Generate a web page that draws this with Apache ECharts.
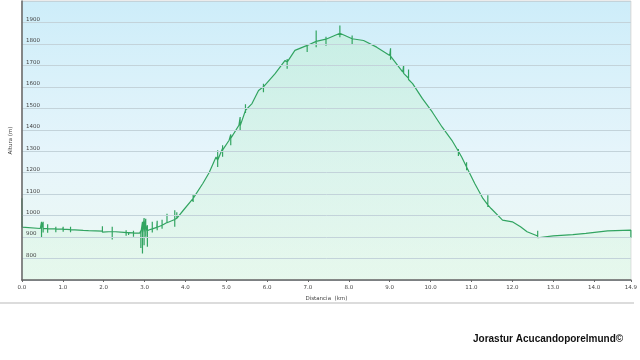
<!DOCTYPE html>
<html>
<head>
<meta charset="utf-8">
<script src="https://cdn.jsdelivr.net/npm/echarts@6/dist/echarts.min.js"></script>
<style>html,body{margin:0;padding:0;background:#fff;}#c{width:640px;height:360px;}</style>
</head>
<body>
<div id="c"></div>
<script>
// Base elevation profile (km, m)
var baseKm  = [0, 0.005, 0.45, 1.0, 1.5, 2.0, 2.5, 2.88, 3.12, 3.3, 3.55, 3.74, 3.95, 4.19, 4.43, 4.58, 4.75, 4.91, 5.07, 5.31, 5.47, 5.63, 5.79, 5.95, 6.19, 6.44, 6.68, 6.99, 7.24, 7.48, 7.8, 8.08, 8.36, 8.68, 9.0, 9.32, 9.56, 9.8, 10.04, 10.28, 10.52, 10.76, 10.88, 11.08, 11.28, 11.48, 11.76, 12.0, 12.2, 12.36, 12.62, 13.0, 13.48, 13.8, 14.33, 14.9, 14.9];
var baseAlt = [1081, 946, 940, 937, 931, 928, 922, 918, 934, 945, 968, 982, 1025, 1080, 1151, 1200, 1273, 1314, 1351, 1421, 1490, 1522, 1583, 1607, 1660, 1723, 1770, 1793, 1816, 1824, 1855, 1824, 1816, 1785, 1746, 1669, 1615, 1545, 1483, 1413, 1351, 1273, 1227, 1150, 1080, 1033, 979, 971, 948, 925, 905, 906, 911, 917, 929, 932, 897];
// GPS noise spikes (km, high, low, level on the profile)
var spikeKm   = [0.48, 0.52, 0.63, 0.83, 1.01, 1.19, 1.63, 1.97, 2.21, 2.55, 2.61, 2.73, 2.91, 2.95, 2.99, 3.03, 3.07, 3.19, 3.31, 3.43, 3.55, 3.74, 3.79, 4.19, 4.79, 4.91, 5.11, 5.34, 5.47, 5.91, 6.49, 6.98, 7.20, 7.44, 7.78, 8.08, 9.02, 9.34, 9.46, 10.68, 10.88, 11.40, 12.62];
var spikeHi   = [971, 971, 960, 948, 948, 948, 935, 951, 948, 932, 930, 930, 930, 971, 989, 985, 955, 971, 976, 981, 1009, 1025, 1016, 1100, 1305, 1328, 1378, 1459, 1519, 1614, 1730, 1793, 1862, 1834, 1886, 1839, 1780, 1702, 1681, 1310, 1249, 1095, 930];
var spikeLo   = [900, 921, 920, 922, 925, 923, 925, 923, 889, 906, 910, 902, 849, 824, 862, 901, 855, 921, 932, 939, 967, 948, 987, 1064, 1227, 1274, 1328, 1397, 1478, 1575, 1684, 1762, 1785, 1792, 1831, 1797, 1726, 1663, 1634, 1278, 1211, 1040, 897];
var spikeBase = [940, 940, 939, 938, 937, 935, 930, 928, 926, 921, 921, 920, 918, 920, 922, 926, 930, 938, 946, 955, 968, 982, 988, 1080, 1258, 1305, 1360, 1418, 1490, 1600, 1715, 1793, 1812, 1822, 1850, 1824, 1743, 1665, 1640, 1300, 1227, 1050, 905];

var xTickInterval = 1, yMin = 700, yMax = 2000, yInterval = 100;

var data = [];
var j = 0;
for (var i = 0; i < baseKm.length; i++) {
  while (j < spikeKm.length && spikeKm[j] < baseKm[i]) {
    data.push([spikeKm[j], spikeBase[j]]);
    data.push([spikeKm[j], spikeHi[j]]);
    data.push([spikeKm[j], spikeLo[j]]);
    data.push([spikeKm[j], spikeBase[j]]);
    j++;
  }
  data.push([baseKm[i], baseAlt[i]]);
}

var chart = echarts.init(document.getElementById('c'), null, {renderer: 'canvas'});
var fontFam = 'DejaVu Sans, Verdana, sans-serif';
chart.setOption({
  animation: false,
  backgroundColor: '#ffffff',
  grid: {
    left: 12, right: 7, top: 1, bottom: 80,
    show: true,
    borderColor: '#d6d6d6', borderWidth: 1,
    backgroundColor: new echarts.graphic.LinearGradient(0, 0, 0, 1, [
      {offset: 0, color: '#cdedf9'},
      {offset: 0.55, color: '#e6f5fb'},
      {offset: 0.8, color: '#eaf7f6'},
      {offset: 1, color: '#eefaf1'}
    ])
  },
  xAxis: {
    type: 'value', min: 0, max: 14.9, interval: xTickInterval, z: 5,
    name: 'Distancia  (km)', nameLocation: 'middle', nameGap: 15,
    nameTextStyle: {fontSize: 5.5, color: '#444', fontFamily: fontFam},
    axisLine: {show: true, lineStyle: {color: '#666', width: 1.5}},
    axisTick: {show: true, length: 2, lineStyle: {color: '#666'}},
    axisLabel: {fontSize: 5.5, color: '#444', fontFamily: fontFam, margin: 5,
      showMaxLabel: true, showMinLabel: true,
      formatter: function (v) { return v.toFixed(1); }},
    splitLine: {show: false}
  },
  yAxis: {
    type: 'value', min: yMin, max: yMax, interval: yInterval, z: 5,
    name: 'Altura (m)', nameLocation: 'middle', nameGap: 4, nameRotate: 90,
    nameTextStyle: {fontSize: 5.5, color: '#444', fontFamily: fontFam},
    axisLine: {show: true, lineStyle: {color: '#666', width: 1.5}},
    axisTick: {show: false},
    axisLabel: {inside: true, margin: 4, fontSize: 5.5, color: '#444', fontFamily: fontFam,
      verticalAlign: 'bottom', showMinLabel: false, showMaxLabel: false,
      formatter: function (v) { return String(v); }},
    splitLine: {show: true, lineStyle: {color: '#c3d3da', width: 1}}
  },
  series: [{
    type: 'line',
    data: data,
    z: 2,
    showSymbol: false,
    symbol: 'none',
    lineStyle: {color: '#32a461', width: 1.2},
    areaStyle: {
      color: new echarts.graphic.LinearGradient(0, 0, 0, 1, [
        {offset: 0, color: 'rgba(190,238,210,0.75)'},
        {offset: 1, color: 'rgba(220,246,230,0.6)'}
      ])
    }
  }],
  graphic: [
    {type: 'line', shape: {x1: 0, y1: 303, x2: 634, y2: 303}, style: {stroke: '#dcdcdc', lineWidth: 2}},
    {type: 'text', left: 473, top: 334, style: {text: 'Jorastur Acucandoporelmund\u00a9', fontSize: 10, fontWeight: 'bold', fontFamily: 'Liberation Sans, Arial, sans-serif', fill: '#111'}}
  ]
});
</script>
</body>
</html>
